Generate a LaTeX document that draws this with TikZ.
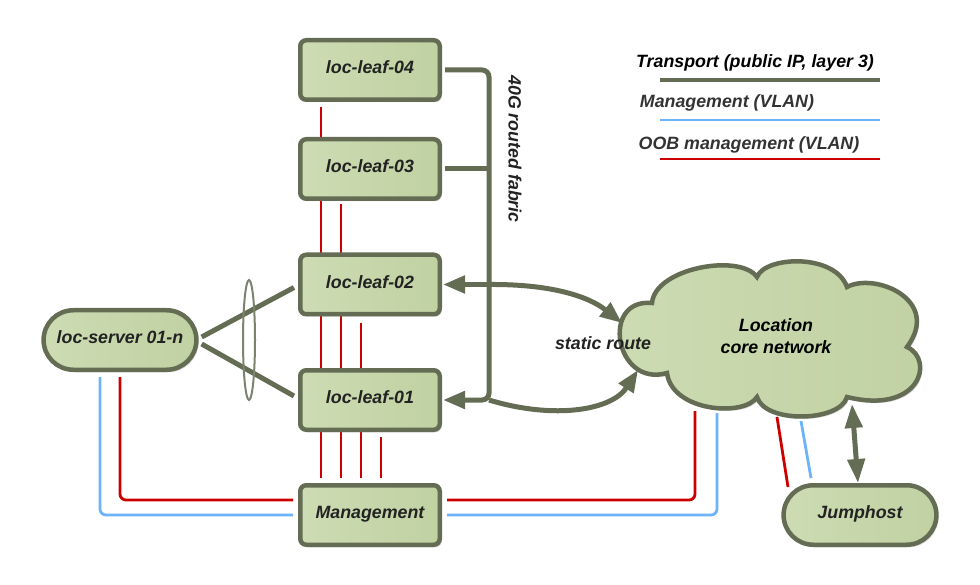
\documentclass[tikz,border=0pt]{standalone}
\usepackage{fontspec}
\setmainfont{Liberation Sans}
\usetikzlibrary{arrows.meta,shapes.misc,shapes.geometric,shadows,calc}
\definecolor{bord}{HTML}{646D54}
\definecolor{fillA}{HTML}{CDDCB3}
\definecolor{fillB}{HTML}{C0D1A2}
\definecolor{oobred}{HTML}{CC0000}
\definecolor{mgblue}{HTML}{6DB3FA}
\definecolor{txt}{HTML}{222222}
\definecolor{legtxt}{HTML}{333333}
\pgfdeclarelayer{bg}
\pgfsetlayers{bg,main}
\tikzset{
 lbl/.style={font=\fontsize{17.8}{22}\selectfont\bfseries\itshape, text=txt},
 shd/.style={drop shadow={shadow xshift=2pt, shadow yshift=-2.5pt, opacity=0.3}},
 boxnode/.style={lbl, draw=bord, line width=4.5pt, left color=fillA, right color=fillB, rounded corners=6pt, minimum width=139.5pt, minimum height=59.5pt, text depth=5pt, shd},
 pill/.style={lbl, rounded rectangle, draw=bord, line width=4.5pt, left color=fillA, right color=fillB, minimum width=159.5pt, minimum height=59.5pt, text depth=5pt, shd},
 fabric/.style={draw=bord, line width=5pt},
 arrowend/.style={-{Triangle[length=22pt,width=17pt]}},
 oob/.style={draw=oobred, line width=2.8pt},
 mgmt/.style={draw=mgblue, line width=2.8pt},
}
\begin{document}
\begin{tikzpicture}[x=1pt,y=-1pt]
\useasboundingbox (0,0) rectangle (980,585);
% nodes
\node[boxnode] (l4) at (370,70) {loc-leaf-04};
\node[boxnode] (l3) at (370,169) {loc-leaf-03};
\node[boxnode] (l2) at (370,284.5) {loc-leaf-02};
\node[boxnode] (l1) at (370,400) {loc-leaf-01};
\node[boxnode] (mg) at (370,515) {Management};
\node[pill] (sv) at (120,340) {loc-server 01-n};
\node[pill] (jh) at (860,515) {Jumphost};
% cloud
\draw[draw=bord, line width=4.5pt, left color=fillA, right color=fillB, shd]
 (652,303) .. controls (655,268) and (740,253) .. (757,277)
 .. controls (765,256) and (835,253) .. (847,287)
 .. controls (875,272) and (942,300) .. (907,347)
 .. controls (935,360) and (920,415) .. (847,397)
 .. controls (840,422) and (765,424) .. (757,397)
 .. controls (745,417) and (672,412) .. (667,373)
 .. controls (615,388) and (600,298) .. (652,303) -- cycle;
\node[lbl, text=black, align=center] (core) at (776,336) {Location\\core network};
% coordinates
\coordinate (bt) at (489,70);
\coordinate (bb) at (489,400);
\coordinate (cs1) at (622,323);
\coordinate (cs2) at (638,370);
\coordinate (cr) at (695,411);
\coordinate (cb) at (717,413);
\coordinate (cjr) at (777,417);
\coordinate (cjb) at (801,421);
\coordinate (cja) at (852,404);
% OOB and management lines
\begin{pgfonlayer}{bg}
\draw[oob] ([xshift=-49pt,yshift=-5pt]l4.south) -- ([xshift=-49pt,yshift=5pt]mg.north);
\draw[oob] ([xshift=-29pt,yshift=-3pt]l3.south) -- ([xshift=-29pt,yshift=5pt]mg.north);
\draw[oob] ([xshift=-9pt,yshift=-7pt]l2.south) -- ([xshift=-9pt,yshift=5pt]mg.north);
\draw[oob] ([xshift=11pt,yshift=-5pt]l1.south) -- ([xshift=11pt,yshift=5pt]mg.north);
\draw[oob, rounded corners=6pt] ([yshift=-5pt]sv.south) |- ([xshift=-5pt,yshift=15pt]mg.west);
\draw[mgmt, rounded corners=6pt] ([xshift=-20pt,yshift=-5pt]sv.south) |- ([xshift=-5pt]mg.west);
\draw[oob, rounded corners=6pt] ([xshift=5pt,yshift=15pt]mg.east) -| (cr);
\draw[mgmt, rounded corners=6pt] ([xshift=5pt]mg.east) -| (cb);
\draw[oob] (cjr) -- ([xshift=-72pt,yshift=-4pt]jh.north);
\draw[mgmt] (cjb) -- ([xshift=-49pt,yshift=5pt]jh.north);
\end{pgfonlayer}
% transport fabric
\draw[fabric, rounded corners=7pt, arrowend] ([xshift=3pt]l4.east) -- (bt) -- (bb) -- ([xshift=1pt]l1.east);
\draw[fabric] ([xshift=3pt]l3.east) -- (l3.east -| bt);
\draw[fabric, arrowend] (l2.east -| bt) -- ([xshift=1pt]l2.east);
\draw[fabric, arrowend] (l2.east -| bt) .. controls (550,284) and (588,296) .. (cs1);
\draw[fabric, arrowend] (bb) .. controls (555,420) and (612,410) .. (cs2);
\draw[fabric, {Triangle[length=24pt,width=17pt]}-{Triangle[length=24pt,width=17pt]}] ([xshift=-2pt]jh.north) -- (cja);
% server uplinks
\draw[fabric] ([xshift=3pt,yshift=3pt]sv.east) -- ([xshift=-4pt,yshift=-3pt]l2.west);
\draw[fabric] ([xshift=3pt,yshift=-4pt]sv.east) -- ([xshift=-4pt,yshift=4pt]l1.west);
\node[ellipse, draw=bord!85, line width=2pt, minimum width=12pt, minimum height=120pt, inner sep=0pt] (lag) at (249,340) {};
% labels
\node[lbl, rotate=-90] (fab) at (515,149) {40G routed fabric};
\node[lbl] (sr) at (603,343) {static route};
% legend
\node[lbl, text=black] (lgt) at (755,63) {Transport (public IP, layer 3)};
\node[lbl, text=legtxt] (lgm) at (727,103) {Management (VLAN)};
\node[lbl, text=legtxt] (lgo) at (749,145) {OOB management (VLAN)};
\coordinate (la1) at (660,80); \coordinate (la2) at (880,80);
\coordinate (lb1) at (660,120); \coordinate (lb2) at (880,120);
\coordinate (lc1) at (660,159); \coordinate (lc2) at (880,159);
\draw[fabric, line width=4.5pt] (la1) -- (la2);
\draw[mgmt] (lb1) -- (lb2);
\draw[oob] (lc1) -- (lc2);
\end{tikzpicture}
\end{document}
